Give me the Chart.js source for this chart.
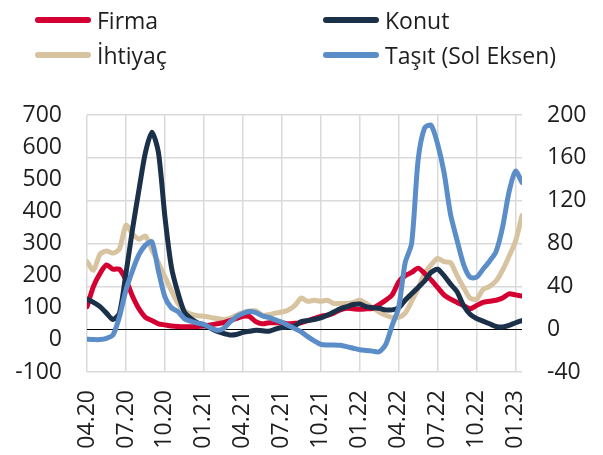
<!DOCTYPE html>
<html>
<head>
<meta charset="utf-8">
<script src="https://cdn.jsdelivr.net/npm/chart.js@4/dist/chart.umd.min.js"></script>
<style>
  body { margin: 0; background: #fff; }
  #wrap { position: relative; width: 603px; height: 455px; font-family: 'Open Sans', sans-serif; }
  #c { position: absolute; left: 0; top: 0; }
  .lg { position: absolute; height: 30px; display: flex; align-items: center; font-size: 23px; color: #1e1e1e; white-space: nowrap; }
  .lg i { display: inline-block; width: 56px; height: 6px; border-radius: 3px; margin-right: 6px; }
</style>
</head>
<body>
<div id="wrap">
  <canvas id="c" width="603" height="455"></canvas>
  <div class="lg" style="left:35px;top:5px"><i style="background:#d50032"></i>Firma</div>
  <div class="lg" style="left:323px;top:5px"><i style="background:#1b3149"></i>Konut</div>
  <div class="lg" style="left:35px;top:40px"><i style="background:#d8c3a1"></i>İhtiyaç</div>
  <div class="lg" style="left:323px;top:40px"><i style="background:#5b8dc9"></i>Taşıt (Sol Eksen)</div>
</div>
<script>
// months since 04.2020, half-month steps
const months = [0, 0.5, 1, 1.5, 2, 2.5, 3, 3.5, 4, 4.5,
  5, 5.5, 6, 6.5, 7, 7.5, 8, 8.5, 9, 9.5,
  10, 10.5, 11, 11.5, 12, 12.5, 13, 13.5, 14, 14.5,
  15, 15.5, 16, 16.5, 17, 17.5, 18, 18.5, 19, 19.5,
  20, 20.5, 21, 21.5, 22, 22.5, 23, 23.5, 24, 24.5,
  25, 25.5, 26, 26.5, 27, 27.5, 28, 28.5, 29, 29.5,
  30, 30.5, 31, 31.5, 32, 32.5, 33, 33.5];

const tickMonths = [0, 3, 6, 9, 12, 15, 18, 21, 24, 27, 30, 33];
const tickLabels = ['04.20', '07.20', '10.20', '01.21', '04.21', '07.21', '10.21', '01.22', '04.22', '07.22', '10.22', '01.23'];

// right axis
const firma = [21, 40, 52, 60, 56, 56, 46, 31, 19, 11,
  8, 5, 4, 3, 2.5, 2.3, 2.3, 2.5, 3, 4,
  5, 6, 8, 10, 12, 12, 7, 5, 6, 6,
  6, 5, 5.5, 6, 8, 10, 12, 13, 15, 18,
  19.5, 19, 18.6, 19, 19.5, 23, 27, 32, 44, 50,
  53, 57, 52, 46, 39, 32, 28, 25, 22, 19,
  22, 25, 26, 27, 29, 33, 32, 31];

const konut = [28, 25, 21, 15, 9, 15, 52, 93, 130, 165,
  184, 165, 105, 58, 34, 16, 10, 6, 4, 1,
  -2, -4, -5.4, -5, -3, -2, -1, -1.5, -2, 0,
  1.5, 2, 3, 7, 8, 9, 10.5, 13, 16, 19,
  21, 23, 23.5, 21, 20, 19.5, 18, 18, 20, 27,
  33, 39, 45, 53, 56, 50, 42, 35, 22, 14,
  10, 7.5, 5, 2.5, 2, 3.5, 6, 8];

const ihtiyac = [63, 55, 70, 73, 71, 75, 97, 89, 84, 87,
  74, 62, 49, 36, 24, 17, 14, 12.5, 12, 11,
  10, 9, 10, 13, 15.5, 17, 17, 13, 13.5, 15,
  16, 18, 22, 29, 26, 27, 26, 27, 24, 24,
  24, 25, 27, 24, 20, 16, 13, 11, 11, 15,
  26, 38, 52, 60, 66, 63, 62, 50, 39, 29,
  28, 37, 40, 45, 55, 68, 82, 106];

// left axis
const tasit = [2, 1, 1, 5, 15, 72, 155, 215, 265, 295,
  305, 215, 134, 100, 88, 66, 58, 52, 48, 38,
  30, 35, 55, 72, 82, 88, 85, 75, 70, 62,
  55, 45, 35, 25, 10, -3, -14, -16, -16, -17,
  -21, -26, -31, -33, -35, -37, -15, 45, 100, 240,
  300, 560, 660, 668, 610, 520, 390, 310, 235, 195,
  195, 220, 245, 275, 350, 460, 525, 490];

const pts = arr => arr.map((v, i) => ({ x: months[i], y: v }));
const font = { family: "'Open Sans', sans-serif", size: 23 };
const textColor = '#1e1e1e';
const gridColor = '#dadada';

const line = (label, data, color, axis) => ({
  label, data: pts(data), yAxisID: axis,
  borderColor: color, backgroundColor: color,
  borderWidth: 5, pointRadius: 0, tension: 0.25,
  borderCapStyle: 'round', borderJoinStyle: 'round'
});

new Chart(document.getElementById('c'), {
  type: 'line',
  data: {
    datasets: [
      line('Taşıt (Sol Eksen)', tasit, '#5b8dc9', 'y'),
      line('Konut', konut, '#1b3149', 'y1'),
      line('Firma', firma, '#d50032', 'y1'),
      line('İhtiyaç', ihtiyac, '#d8c3a1', 'y1')
    ]
  },
  options: {
    responsive: false,
    animation: false,
    layout: { padding: { top: 115 } },
    plugins: { legend: { display: false }, tooltip: { enabled: false } },
    scales: {
      x: {
        type: 'linear', min: 0, max: 33.5,
        afterBuildTicks: s => { s.ticks = tickMonths.map(v => ({ value: v })); },
        afterFit: s => { s.height = 83; },
        ticks: { autoSkip: false, minRotation: 90, maxRotation: 90, padding: 18, font, color: textColor,
          callback: (v, i) => tickLabels[i] },
        grid: { color: gridColor, lineWidth: 1.5, drawTicks: false },
        border: { display: false }
      },
      y: {
        position: 'left', min: -100, max: 700,
        afterFit: s => { s.width = 87; },
        ticks: { stepSize: 100, padding: 25, font, color: textColor },
        grid: { display: false, drawTicks: false },
        border: { display: false }
      },
      y1: {
        position: 'right', min: -40, max: 200,
        afterFit: s => { s.width = 81; },
        ticks: { stepSize: 40, padding: 25, font, color: textColor },
        grid: {
          drawTicks: false,
          color: ctx => ctx.tick && ctx.tick.value === 0 ? '#000' : gridColor,
          lineWidth: ctx => ctx.tick && ctx.tick.value === 0 ? 1 : 1.5
        },
        border: { display: false }
      }
    }
  }
});
</script>
</body>
</html>
